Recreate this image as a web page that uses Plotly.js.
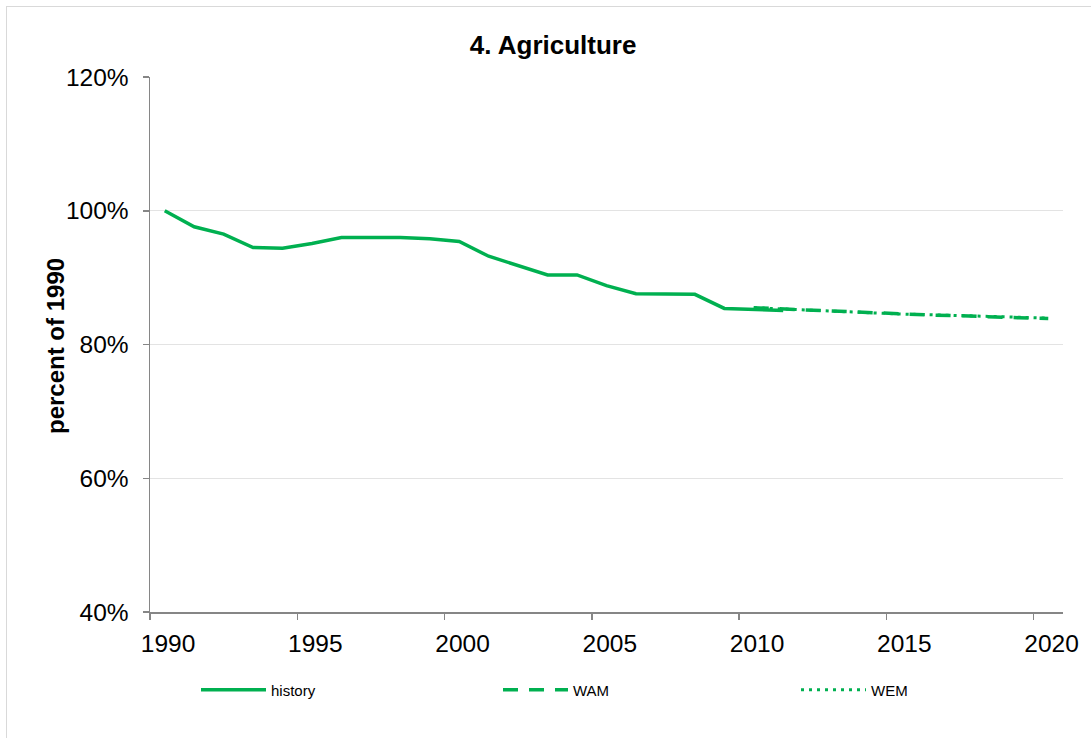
<!DOCTYPE html>
<html>
<head>
<meta charset="utf-8">
<script src="https://cdn.plot.ly/plotly-3.0.1.min.js"></script>
<style>
  html, body { margin: 0; padding: 0; background: #ffffff; }
  #wrap { position: relative; width: 1091px; height: 738px; overflow: hidden; }
  #frame { position: absolute; left: 6px; top: 6px; width: 1100px; height: 760px;
           border-left: 1px solid #d9d9d9; border-top: 1px solid #d9d9d9;
           box-sizing: border-box; pointer-events: none; }
  #chart { position: absolute; left: 0; top: 0; width: 1091px; height: 738px; }
</style>
</head>
<body>
<div id="wrap">
  <div id="chart"></div>
  <div id="frame"></div>
</div>
<script>
// ---- data ----
const historyYears = [1990,1991,1992,1993,1994,1995,1996,1997,1998,1999,2000,2001,2002,2003,2004,2005,2006,2007,2008,2009,2010,2011];
const historyVals  = [100.0,97.6,96.5,94.5,94.4,95.1,96.0,96.0,96.0,95.8,95.4,93.2,91.8,90.4,90.4,88.8,87.6,87.6,87.5,85.4,85.25,85.1];

const projYears = [2010,2011,2012,2013,2014,2015,2016,2017,2018,2019,2020];
const wamVals   = [85.5,85.3,85.1,84.9,84.7,84.5,84.4,84.3,84.1,84.0,83.9];
const wemVals   = [85.5,85.3,85.1,84.9,84.7,84.55,84.45,84.3,84.15,84.05,83.95];

const seriesNames = ['history','WAM','WEM'];
const xTickLabels = ['1990','1995','2000','2005','2010','2015','2020'];
const yTickVals   = [40,60,80,100,120];
const yTickLabels = ['40%','60%','80%','100%','120%'];

const green = '#00B050';

const traces = [
  { x: historyYears, y: historyVals, name: seriesNames[0], mode: 'lines', legend: 'legend',
    line: { color: green, width: 3.5 } },
  { x: projYears, y: wamVals, name: seriesNames[1], mode: 'lines', legend: 'legend2',
    line: { color: green, width: 3.5, dash: '15px,11px' } },
  { x: projYears, y: wemVals, name: seriesNames[2], mode: 'lines', legend: 'legend3',
    line: { color: green, width: 3, dash: '3px,5px' } }
];

const firstYear = historyYears[0];
const lastYear = projYears[projYears.length - 1];

function mkLegend(px) {
  return { orientation: 'h', x: px / 1091, xref: 'container', xanchor: 'left',
           y: 1 - 690 / 738, yref: 'container', yanchor: 'middle',
           font: { size: 15, color: '#000000' }, itemwidth: 65,
           bgcolor: 'rgba(0,0,0,0)', borderwidth: 0 };
}

const layout = {
  width: 1091, height: 738,
  margin: { l: 150, r: 28, t: 77, b: 126 },
  paper_bgcolor: '#ffffff', plot_bgcolor: '#ffffff',
  font: { family: 'Liberation Sans, Arial, sans-serif', color: '#000000' },
  title: { text: '<b>4. Agriculture</b>', font: { size: 26, color: '#000000' },
           x: 0.507, xref: 'container', y: 1 - 45/738, yref: 'container',
           xanchor: 'center', yanchor: 'middle' },
  showlegend: true,
  legend: mkLegend(196),
  legend2: mkLegend(498),
  legend3: mkLegend(796),
  xaxis: {
    range: [firstYear - 0.5, lastYear + 0.5],
    tickmode: 'array',
    tickvals: xTickLabels.map(t => Number(t) - 0.5),
    ticktext: xTickLabels,
    ticks: 'outside', ticklen: 6, tickwidth: 1.5, tickcolor: '#868686',
    ticklabelshift: 18, ticklabelstandoff: 3,
    tickfont: { size: 24.5, color: '#000000' },
    showline: true, linecolor: '#868686', linewidth: 1.5,
    showgrid: false, zeroline: false, fixedrange: true
  },
  yaxis: {
    range: [40, 120],
    tickmode: 'array', tickvals: yTickVals, ticktext: yTickLabels,
    ticks: 'outside', ticklen: 6, tickwidth: 1.5, tickcolor: '#868686',
    ticklabelstandoff: 9,
    tickfont: { size: 24.5, color: '#000000' },
    showline: true, linecolor: '#868686', linewidth: 1.5,
    showgrid: true, gridcolor: '#e3e3e3', gridwidth: 1,
    zeroline: false, fixedrange: true
  },
  annotations: [
    { text: '<b>percent of 1990</b>', textangle: -90, xref: 'paper', yref: 'paper',
      x: (55-150)/913, y: (612-346)/535, xanchor: 'center', yanchor: 'middle',
      showarrow: false, font: { size: 24, color: '#000000' } }
  ]
};

Plotly.newPlot('chart', traces, layout, { displayModeBar: false, staticPlot: true });
</script>
</body>
</html>
